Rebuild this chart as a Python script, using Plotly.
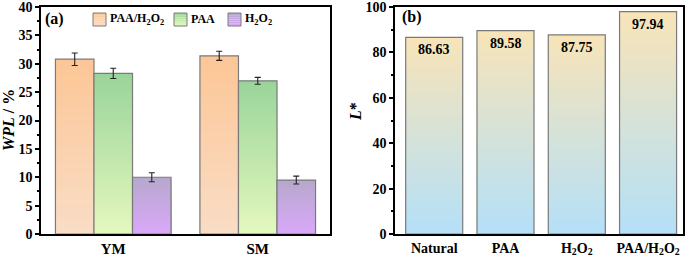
import plotly.graph_objects as go

# ---------------- data ----------------
groups = ["YM", "SM"]
series_names = ["PAA/H<sub>2</sub>O<sub>2</sub>", "PAA", "H<sub>2</sub>O<sub>2</sub>"]
wpl_paa_h2o2 = [30.8, 31.4]
wpl_paa = [28.3, 27.0]
wpl_h2o2 = [10.0, 9.5]
err_paa_h2o2 = [1.1, 0.8]
err_paa = [0.9, 0.6]
err_h2o2 = [0.8, 0.7]

treatments = ["Natural", "PAA", "H<sub>2</sub>O<sub>2</sub>", "PAA/H<sub>2</sub>O<sub>2</sub>"]
lightness = [86.63, 89.58, 87.75, 97.94]

wpl_ticks = [0, 5, 10, 15, 20, 25, 30, 35, 40]
l_ticks = [0, 20, 40, 60, 80, 100]

# ---------------- style ----------------
FONT = "Liberation Serif"
EDGE = "#7a7a7a"
N = 40  # gradient steps

grad_a = [  # (top colour, bottom colour)
    ((252, 198, 150), (249, 221, 198)),
    ((154, 212, 154), (228, 248, 190)),
    ((182, 168, 204), (218, 168, 250)),
]
grad_b = ((248, 228, 184), (180, 224, 248))


def lerp(c1, c2, t):
    return "rgb(%d,%d,%d)" % tuple(round(a + (b - a) * t) for a, b in zip(c1, c2))


def px2x(px):
    return px / 685


def px2y(py):
    return 1 - py / 256


fig = go.Figure()

values_a = [wpl_paa_h2o2, wpl_paa, wpl_h2o2]
errs_a = [err_paa_h2o2, err_paa, err_h2o2]
bw = 0.8 / 3
offsets = [-0.4, -0.4 + bw, -0.4 + 2 * bw]

# left panel: gradient bars drawn as nested layers
for s, vals in enumerate(values_a):
    top, bot = grad_a[s]
    for k in range(N):
        frac = (N - k) / N
        fig.add_trace(go.Bar(
            x=groups, y=[v * frac for v in vals], xaxis="x", yaxis="y",
            width=bw, offset=offsets[s],
            marker=dict(color=lerp(bot, top, frac - 0.5 / N), line=dict(width=0)),
            showlegend=False, hoverinfo="skip"))
    fig.add_trace(go.Bar(
        x=groups, y=vals, xaxis="x", yaxis="y", name=series_names[s],
        width=bw, offset=offsets[s],
        marker=dict(color="rgba(0,0,0,0)", line=dict(color=EDGE, width=1.2)),
        error_y=dict(type="data", array=errs_a[s], color="#222", thickness=1.1, width=3),
        showlegend=False))

# right panel
for k in range(N):
    frac = (N - k) / N
    fig.add_trace(go.Bar(
        x=treatments, y=[v * frac for v in lightness], xaxis="x2", yaxis="y2",
        width=0.8,
        marker=dict(color=lerp(grad_b[1], grad_b[0], frac - 0.5 / N), line=dict(width=0)),
        showlegend=False, hoverinfo="skip"))
fig.add_trace(go.Bar(
    x=treatments, y=lightness, xaxis="x2", yaxis="y2", width=0.8,
    marker=dict(color="rgba(0,0,0,0)", line=dict(color=EDGE, width=1.2)),
    showlegend=False))

axis_common = dict(showline=True, linecolor="black", linewidth=1.5, mirror=True,
                   showgrid=False, zeroline=False, ticklabeloverflow="allow")
yfont = dict(family=FONT, size=14, color="black", weight="bold")

fig.update_layout(
    width=685, height=256, margin=dict(l=0, r=0, t=0, b=0),
    plot_bgcolor="white", paper_bgcolor="white", barmode="overlay",
    showlegend=False,
    xaxis=dict(domain=[px2x(41), px2x(330)], range=[-0.5, 1.5], ticks="",
               tickfont=dict(family=FONT, size=15, color="black", weight="bold"),
               automargin=False, **axis_common),
    yaxis=dict(domain=[px2y(234), px2y(7)], range=[0, 40], tickmode="array",
               tickvals=wpl_ticks, ticktext=[str(t) for t in wpl_ticks], ticks="outside",
               ticklen=4, tickwidth=1.5, tickcolor="black", tickfont=yfont,
               minor=dict(ticks="outside", ticklen=2, dtick=2.5, tickcolor="black"),
               automargin=False, **axis_common),
    xaxis2=dict(domain=[px2x(395), px2x(683)], range=[-0.55, 3.49], ticks="",
                tickfont=dict(family=FONT, size=14, color="black", weight="bold"),
                automargin=False, **axis_common),
    yaxis2=dict(domain=[px2y(234), px2y(7)], range=[0, 100], tickmode="array",
                tickvals=l_ticks, ticktext=[str(t) for t in l_ticks], ticks="outside",
                ticklen=4, tickwidth=1.5, tickcolor="black", tickfont=yfont,
                minor=dict(ticks="outside", ticklen=2, dtick=10, tickcolor="black"),
                anchor="x2", automargin=False, **axis_common),
)

ann = []
# value labels inside the L* bars, just below each bar top
for cat, v in zip(treatments, lightness):
    ann.append(dict(text="%.2f" % v, x=cat, y=v, xref="x2", yref="y2",
                    xanchor="center", yanchor="middle", yshift=-12.5, showarrow=False,
                    font=dict(family=FONT, size=14, color="black", weight="bold")))
# axis titles
ann.append(dict(text="<i>WPL</i> / %", x=px2x(8), y=px2y(120), xref="paper", yref="paper",
                xanchor="center", yanchor="middle", textangle=-90, showarrow=False,
                font=dict(family=FONT, size=16, color="black", weight="bold")))
ann.append(dict(text="<i>L</i>*", x=px2x(355), y=px2y(112), xref="paper", yref="paper",
                xanchor="center", yanchor="middle", textangle=-90, showarrow=False,
                font=dict(family=FONT, size=16, color="black", weight="bold")))
# panel labels
ann.append(dict(text="(a)", x=px2x(43), y=px2y(18.5), xref="paper", yref="paper",
                xanchor="left", yanchor="middle", showarrow=False,
                font=dict(family=FONT, size=16, color="black", weight="bold")))
ann.append(dict(text="(b)", x=px2x(400), y=px2y(17), xref="paper", yref="paper",
                xanchor="left", yanchor="middle", showarrow=False,
                font=dict(family=FONT, size=16, color="black", weight="bold")))

# manual legend
shapes = []
legend_x = [93, 174, 228]
for s, name in enumerate(series_names):
    top, bot = grad_a[s]
    x0, x1 = legend_x[s], legend_x[s] + 13
    y0, y1 = 13, 26
    steps = 6
    for j in range(steps):
        ya = y0 + (y1 - y0) * j / steps
        yb = y0 + (y1 - y0) * (j + 1) / steps
        shapes.append(dict(type="rect", xref="paper", yref="paper",
                           x0=px2x(x0), x1=px2x(x1), y0=px2y(ya), y1=px2y(yb),
                           fillcolor=lerp(top, bot, (j + 0.5) / steps), line=dict(width=0)))
    shapes.append(dict(type="rect", xref="paper", yref="paper",
                       x0=px2x(x0), x1=px2x(x1), y0=px2y(y0), y1=px2y(y1),
                       fillcolor="rgba(0,0,0,0)", line=dict(color=EDGE, width=1)))
    ann.append(dict(text=name, x=px2x(x1 + 1.5), y=px2y(19), xref="paper", yref="paper",
                    xanchor="left", yanchor="middle", showarrow=False,
                    font=dict(family=FONT, size=12, color="black", weight="bold")))

fig.update_layout(annotations=ann, shapes=shapes)

fig.write_html("out.html", config={"displayModeBar": False},
               post_script="document.body.style.margin='0';document.body.style.overflow='hidden';")
